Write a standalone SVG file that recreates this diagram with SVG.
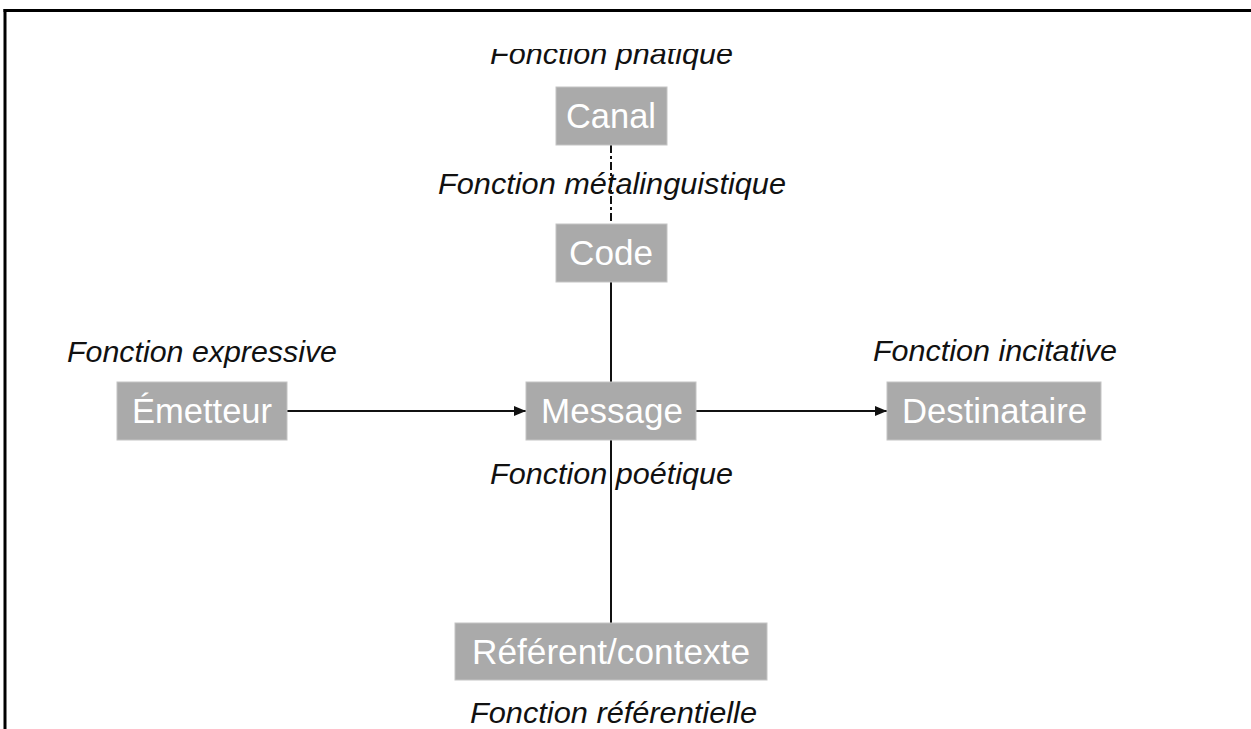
<svg xmlns="http://www.w3.org/2000/svg" width="1251" height="729" viewBox="0 0 1251 729">
<style>
.box{fill:#aaaaaa;stroke:#c4c4c4;stroke-width:1}
.nl{font-family:"Liberation Sans",Arial,sans-serif;font-size:35px;fill:#ffffff}
.fl{font-family:"Liberation Sans",Arial,sans-serif;font-size:30px;font-style:italic;fill:#111111}
.ln{stroke:#111111;stroke-width:2;fill:none}
</style>
<defs>
<marker id="arr" viewBox="0 0 12 10" refX="12" refY="5" markerWidth="12" markerHeight="10" markerUnits="userSpaceOnUse" orient="auto">
<path d="M0,0 L12,5 L0,10 z" fill="#111111"/>
</marker>
<clipPath id="topclip"><rect x="0" y="49" width="1251" height="40"/></clipPath>
</defs>
<rect width="1251" height="729" fill="#ffffff"/>
<g id="frame">
<line x1="3.5" y1="10.5" x2="1251" y2="10.5" stroke="#000" stroke-width="3"/>
<line x1="5" y1="9" x2="5" y2="729" stroke="#000" stroke-width="3"/>
</g>
<g id="connectors">
<line class="ln" x1="611" y1="145" x2="611" y2="224" stroke-width="2.5" stroke-dasharray="8 3 3 3"/>
<line class="ln" x1="611" y1="282" x2="611" y2="382"/>
<line class="ln" x1="611" y1="440" x2="611" y2="623"/>
<line class="ln" x1="287" y1="411" x2="526" y2="411" marker-end="url(#arr)"/>
<line class="ln" x1="696" y1="411" x2="887" y2="411" marker-end="url(#arr)"/>
</g>
<g id="canal">
<rect class="box" x="556" y="87" width="111" height="58"/>
<text class="nl" x="566" y="128" textLength="90" lengthAdjust="spacingAndGlyphs">Canal</text>
<text class="fl" x="490" y="64" textLength="243" lengthAdjust="spacingAndGlyphs" clip-path="url(#topclip)">Fonction phatique</text>
</g>
<g id="code">
<rect class="box" x="556" y="224" width="111" height="58"/>
<text class="nl" x="569" y="265" textLength="84" lengthAdjust="spacingAndGlyphs">Code</text>
<text class="fl" x="438" y="194" textLength="348" lengthAdjust="spacingAndGlyphs">Fonction métalinguistique</text>
</g>
<g id="emetteur">
<rect class="box" x="117" y="382" width="170" height="58"/>
<text class="nl" x="132" y="423" textLength="140" lengthAdjust="spacingAndGlyphs">Émetteur</text>
<text class="fl" x="67" y="362" textLength="270" lengthAdjust="spacingAndGlyphs">Fonction expressive</text>
</g>
<g id="message">
<rect class="box" x="526" y="382" width="170" height="58"/>
<text class="nl" x="541" y="423" textLength="142" lengthAdjust="spacingAndGlyphs">Message</text>
<text class="fl" x="490" y="484" textLength="243" lengthAdjust="spacingAndGlyphs">Fonction poétique</text>
</g>
<g id="destinataire">
<rect class="box" x="887" y="382" width="214" height="58"/>
<text class="nl" x="902" y="423" textLength="185" lengthAdjust="spacingAndGlyphs">Destinataire</text>
<text class="fl" x="873" y="361" textLength="244" lengthAdjust="spacingAndGlyphs">Fonction incitative</text>
</g>
<g id="referent">
<rect class="box" x="455" y="623" width="312" height="57"/>
<text class="nl" x="472" y="664" textLength="278" lengthAdjust="spacingAndGlyphs">Référent/contexte</text>
<text class="fl" x="470" y="723" textLength="287" lengthAdjust="spacingAndGlyphs">Fonction référentielle</text>
</g>
</svg>
